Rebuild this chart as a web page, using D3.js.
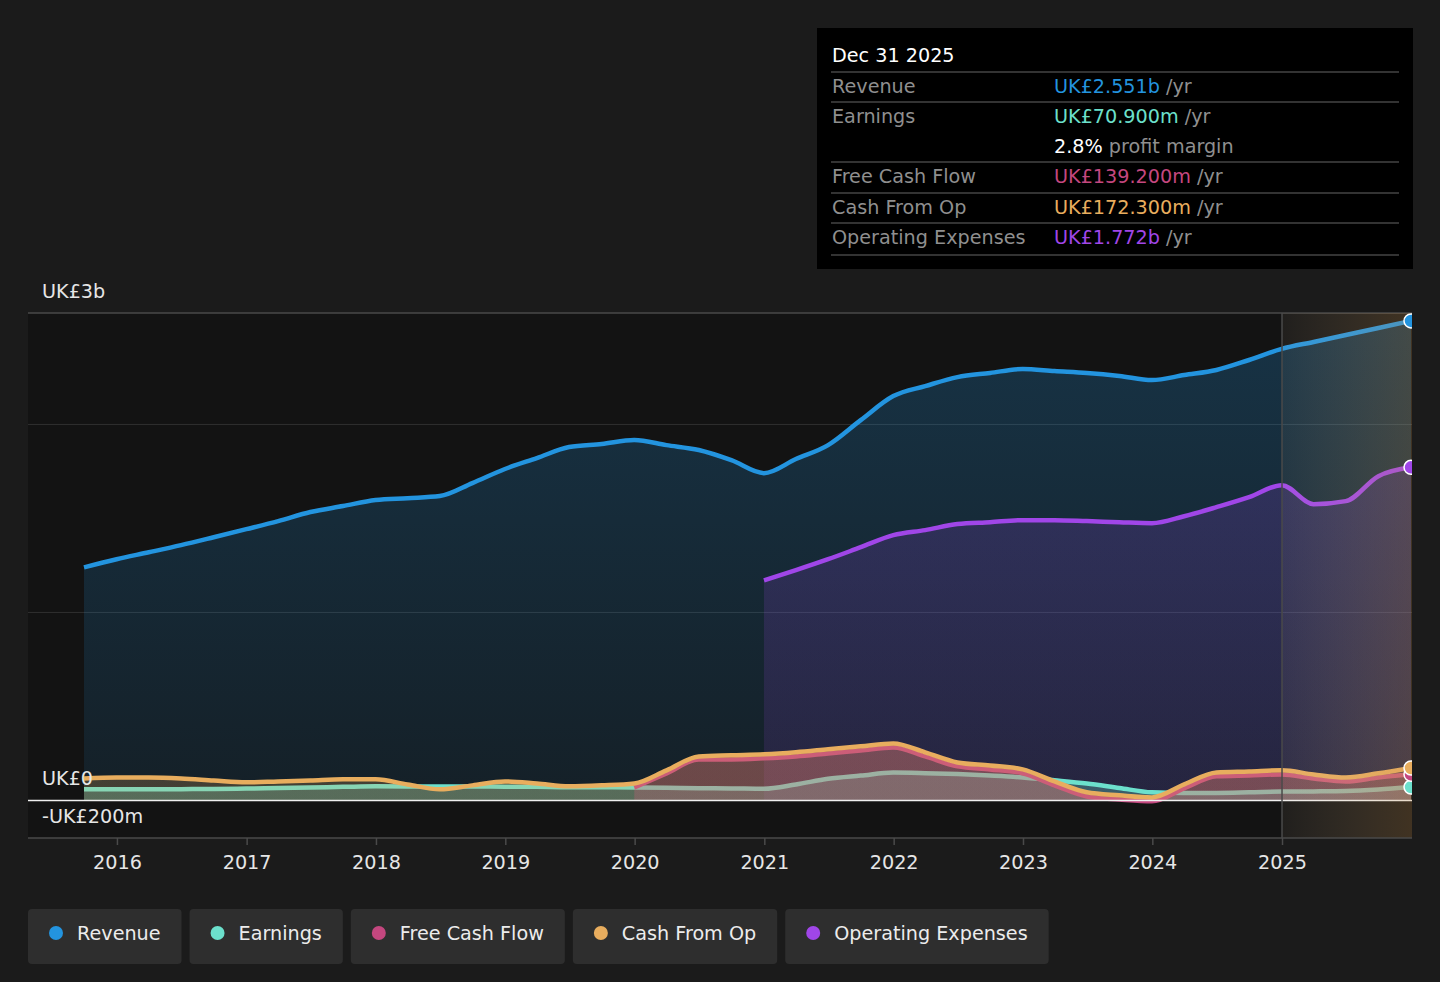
<!DOCTYPE html>
<html>
<head>
<meta charset="utf-8">
<script src="https://cdn.jsdelivr.net/npm/d3@7"></script>
<style>
  html, body { margin: 0; padding: 0; background: #1b1b1b; }
  svg { display: block; font-family: "DejaVu Sans", sans-serif; }
</style>
</head>
<body>
<div id="chart"></div>
<script>
// quarterly dates, values in UK£m
const dates = [
  "2015-09-30","2015-12-31","2016-03-31","2016-06-30","2016-09-30","2016-12-31",
  "2017-03-31","2017-06-30","2017-09-30","2017-12-31","2018-03-31","2018-06-30",
  "2018-09-30","2018-12-31","2019-03-31","2019-06-30","2019-09-30","2019-12-31",
  "2020-03-31","2020-06-30","2020-09-30","2020-12-31","2021-03-31","2021-06-30",
  "2021-09-30","2021-12-31","2022-03-31","2022-06-30","2022-09-30","2022-12-31",
  "2023-03-31","2023-06-30","2023-09-30","2023-12-31","2024-03-31","2024-06-30",
  "2024-09-30","2024-12-31","2025-03-31","2025-06-30","2025-09-30","2025-12-31"
];

const revenue = [
  1240,1283,1320,1358,1400,1443,1486,1534,1566,1598,1608,1619,
  1688,1763,1821,1880,1896,1917,1890,1864,1810,1741,1816,1890,
  2023,2151,2204,2252,2274,2295,2284,2274,2258,2236,2263,2290,
  2343,2402,2439,2476,2513,2551
];

const earnings = [
  59,59,60,60,61,63,66,69,72,75,74,74,
  74,73,72,70,70,69,67,65,64,62,85,115,
  132,148,145,140,132,122,107,90,66,43,40,40,
  43,47,48,50,58,70.9
];

// free cash flow starts Dec 2019
const fcf = [
  null,null,null,null,null,null,null,null,null,null,null,null,
  null,null,null,null,null,69,144,218,218,224,234,250,
  266,282,234,181,165,144,80,21,5,-5,64,128,
  133,138,117,101,122,139.2
];

const cashFromOp = [
  117,122,122,117,106,96,101,106,112,112,85,59,
  80,101,90,75,80,90,160,234,240,245,256,272,
  288,303,256,202,186,165,101,43,27,16,85,149,
  154,160,138,122,144,172.3
];

// operating expenses start Dec 2020
const opex = [
  null,null,null,null,null,null,null,null,null,null,null,null,
  null,null,null,null,null,null,null,null,null,1171,1225,1283,
  1347,1411,1438,1470,1480,1491,1491,1486,1480,1475,1512,1560,
  1613,1677,1576,1592,1725,1772
];

const yearTicks = [2016,2017,2018,2019,2020,2021,2022,2023,2024,2025];
const yLabels = [
  {v: 2593, t: "UK£3b"},
  {v: 0, t: "UK£0"},
  {v: -200, t: "-UK£200m"}
];

const seriesNames = ["Revenue","Earnings","Free Cash Flow","Cash From Op","Operating Expenses"];
const seriesColors = ["#2394df","#6ce0cc","#c4477f","#e8ad5e","#a046e8"];

const tipRows = [
  {label: "Revenue", value: "UK£2.551b", unit: " /yr", color: "#2394df"},
  {label: "Earnings", value: "UK£70.900m", unit: " /yr", color: "#6ce0cc"},
  {label: "", value: "2.8%", unit: " profit margin", color: "#ffffff"},
  {label: "Free Cash Flow", value: "UK£139.200m", unit: " /yr", color: "#c4477f"},
  {label: "Cash From Op", value: "UK£172.300m", unit: " /yr", color: "#e8ad5e"},
  {label: "Operating Expenses", value: "UK£1.772b", unit: " /yr", color: "#a046e8"}
];

const width = 1440, height = 982;
const plotL = 28, plotR = 1412, plotT = 313, plotB = 838;
const fs = "19.2px";
const parse = d3.timeParse("%Y-%m-%d");
const dts = dates.map(parse);

const svg = d3.select("#chart").append("svg")
  .attr("width", width).attr("height", height);

svg.append("rect").attr("width", width).attr("height", height).attr("fill", "#1b1b1b");

let x = d3.scaleTime()
  .domain([parse("2015-04-25"), parse("2025-12-31")])
  .range([plotL, 1411]);

let y = d3.scaleLinear()
  .domain([-200, 2593])
  .range([plotB, plotT]);

const defs = svg.append("defs");
defs.append("clipPath").attr("id", "clip")
  .append("rect")
  .attr("x", plotL).attr("y", plotT - 10)
  .attr("width", plotR - plotL).attr("height", plotB - plotT + 10);

// plot background
svg.append("rect")
  .attr("x", plotL).attr("y", plotT)
  .attr("width", plotR - plotL).attr("height", plotB - plotT)
  .attr("fill", "#131313");

// gridlines
svg.append("g").selectAll("line").data([1000, 2000])
  .enter().append("line")
  .attr("x1", plotL).attr("x2", plotR)
  .attr("y1", d => y(d)).attr("y2", d => y(d))
  .attr("stroke", "#303030").attr("stroke-width", 1);

svg.append("line")
  .attr("x1", plotL).attr("x2", plotR)
  .attr("y1", y(2593)).attr("y2", y(2593))
  .attr("stroke", "#4a4a4a").attr("stroke-width", 1.5);

function makeGrad(id, color, a1, a2) {
  let g = defs.append("linearGradient").attr("id", id)
    .attr("gradientUnits", "userSpaceOnUse")
    .attr("x1", 0).attr("x2", 0).attr("y1", plotT).attr("y2", y(0));
  g.append("stop").attr("offset", "0%").attr("stop-color", color).attr("stop-opacity", a1);
  g.append("stop").attr("offset", "100%").attr("stop-color", color).attr("stop-opacity", a2);
}

const allSeries = [revenue, earnings, fcf, cashFromOp, opex];
const grads = [[0.25, 0.1], [0.3, 0.3], [0.3, 0.3], [0.22, 0.22], [0.22, 0.12]];
seriesColors.forEach((c, i) => makeGrad("g" + i, c, grads[i][0], grads[i][1]));

const order = [0, 4, 1, 2, 3];
const plot = svg.append("g").attr("clip-path", "url(#clip)");

order.forEach(function(i) {
  const pts = allSeries[i].map((v, j) => ({date: dts[j], value: v}))
    .filter(d => d.value !== null);
  const area = d3.area()
    .x(d => x(d.date)).y0(y(0)).y1(d => y(d.value))
    .curve(d3.curveMonotoneX);
  const line = d3.line()
    .x(d => x(d.date)).y(d => y(d.value))
    .curve(d3.curveMonotoneX);
  plot.append("path").datum(pts)
    .attr("d", area)
    .attr("fill", "url(#g" + i + ")");
  plot.append("path").datum(pts)
    .attr("d", line)
    .attr("fill", "none")
    .attr("stroke", seriesColors[i])
    .attr("stroke-width", 4.5)
    .attr("stroke-linejoin", "round");
});

// zero line
svg.append("line")
  .attr("x1", plotL).attr("x2", plotR)
  .attr("y1", y(0)).attr("y2", y(0))
  .attr("stroke", "#f0f0f0").attr("stroke-width", 1.5);

// forecast shading
const fx = x(parse("2025-01-01"));
const fg = defs.append("linearGradient").attr("id", "fc")
  .attr("x1", "0%").attr("x2", "100%").attr("y1", "0%").attr("y2", "0%");
fg.append("stop").attr("offset", "0%").attr("stop-color", "#d8c0a0").attr("stop-opacity", 0.07);
fg.append("stop").attr("offset", "100%").attr("stop-color", "#d09650").attr("stop-opacity", 0.24);

svg.append("rect")
  .attr("x", fx).attr("y", plotT)
  .attr("width", plotR - fx).attr("height", plotB - plotT)
  .attr("fill", "url(#fc)");

svg.append("line")
  .attr("x1", fx).attr("x2", fx)
  .attr("y1", plotT).attr("y2", plotB)
  .attr("stroke", "#4a4a4a").attr("stroke-width", 1.5);

// end markers, clipped at the plot edge
const last = dts.length - 1;
const marks = svg.append("g").attr("clip-path", "url(#clip)");
[4, 0, 1, 2, 3].forEach(function(i) {
  marks.append("circle")
    .attr("cx", x(dts[last])).attr("cy", y(allSeries[i][last]))
    .attr("r", 7)
    .attr("fill", seriesColors[i])
    .attr("stroke", "#ffffff").attr("stroke-width", 1.5);
});

// x axis
const xAxis = svg.append("g")
  .attr("transform", `translate(0, ${plotB})`)
  .call(d3.axisBottom(x)
    .tickValues(yearTicks.map(yr => new Date(yr, 0, 1)))
    .tickFormat(d3.timeFormat("%Y"))
    .tickSize(7).tickPadding(10));
xAxis.select(".domain").attr("stroke", "#4a4a4a").attr("stroke-width", 1.5)
  .attr("d", `M${plotL},0H${plotR}`);
xAxis.selectAll(".tick line").attr("stroke", "#4a4a4a").attr("stroke-width", 1.5);
xAxis.selectAll(".tick text").attr("fill", "#e6e6e6").style("font-size", fs)
  .style("font-family", "DejaVu Sans");

// y labels
svg.append("g").selectAll("text").data(yLabels)
  .enter().append("text")
  .attr("x", 42)
  .attr("y", d => y(d.v) - 15)
  .attr("fill", "#e6e6e6")
  .style("font-size", fs)
  .text(d => d.t);

// tooltip box
const tip = svg.append("g");
tip.append("rect")
  .attr("x", 817).attr("y", 28).attr("width", 596).attr("height", 241)
  .attr("fill", "#000000");
tip.append("text")
  .attr("x", 832).attr("y", 62)
  .attr("fill", "#ffffff").style("font-size", fs)
  .text("Dec 31 2025");

const rowY = [93, 123, 153, 183, 214, 244];
const sepY = [72, 102, 162, 193, 223, 255];
tip.selectAll("line.sep").data(sepY).enter().append("line")
  .attr("x1", 831).attr("x2", 1399)
  .attr("y1", d => d).attr("y2", d => d)
  .attr("stroke", "#444444").attr("stroke-width", 1.5);

tipRows.forEach(function(r, i) {
  tip.append("text")
    .attr("x", 832).attr("y", rowY[i])
    .attr("fill", "#8f8f8f").style("font-size", fs)
    .text(r.label);
  const t = tip.append("text")
    .attr("x", 1054).attr("y", rowY[i])
    .style("font-size", fs);
  t.append("tspan").attr("fill", r.color).text(r.value);
  t.append("tspan").attr("fill", "#8f8f8f").text(r.unit);
});

// legend
const legend = svg.append("g");
let lx = 28;
seriesNames.forEach(function(name, i) {
  const g = legend.append("g").attr("transform", `translate(${lx}, 909)`);
  const bg = g.append("rect")
    .attr("height", 55).attr("rx", 4)
    .attr("fill", "#2e2e2e");
  g.append("circle")
    .attr("cx", 28).attr("cy", 24).attr("r", 7)
    .attr("fill", seriesColors[i]);
  const txt = g.append("text")
    .attr("x", 49).attr("y", 31)
    .attr("fill", "#ececec").style("font-size", fs)
    .text(name);
  const w = 49 + txt.node().getComputedTextLength() + 21;
  bg.attr("width", w);
  lx += w + 8;
});
</script>
</body>
</html>
